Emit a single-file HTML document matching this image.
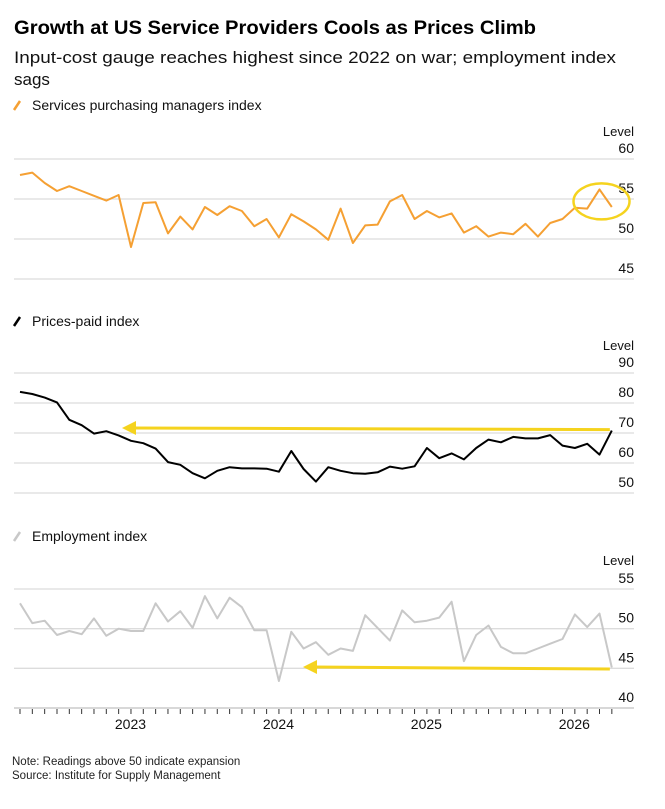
<!DOCTYPE html>
<html><head><meta charset="utf-8"><style>
html,body{margin:0;padding:0;background:#fff;}
svg{display:block;font-family:"Liberation Sans",Arial,sans-serif;}
</style></head><body>
<svg id="chart" width="665" height="809" viewBox="0 0 665 809" xmlns="http://www.w3.org/2000/svg">
<text x="14" y="34" font-size="19" font-weight="bold" fill="#000" textLength="522" lengthAdjust="spacingAndGlyphs">Growth at US Service Providers Cools as Prices Climb</text>
<text x="14" y="63" font-size="17" fill="#111" textLength="602" lengthAdjust="spacingAndGlyphs">Input-cost gauge reaches highest since 2022 on war; employment index</text>
<text x="14" y="85" font-size="17" fill="#111">sags</text>
<g id="panels"></g>
<text x="12" y="765" font-size="11.5" fill="#222">Note: Readings above 50 indicate expansion</text>
<text x="12" y="779" font-size="11.5" fill="#222">Source: Institute for Supply Management</text>
</svg>
<script>
const pmiValues=[58.0,58.3,57.0,56.0,56.6,56.0,55.4,54.8,55.5,49.0,54.5,54.6,50.7,52.8,51.2,54.0,53.0,54.1,53.5,51.6,52.5,50.2,53.1,52.2,51.2,49.9,53.8,49.5,51.7,51.8,54.7,55.5,52.5,53.5,52.7,53.2,50.8,51.6,50.3,50.8,50.6,51.9,50.3,52.0,52.5,53.9,53.8,56.2,54.0];
const pricesValues=[83.7,83.0,81.8,80.2,74.4,72.6,69.8,70.6,69.2,67.4,66.6,64.8,60.3,59.4,56.6,54.9,57.4,58.6,58.2,58.2,58.1,57.1,64.0,58.0,53.8,58.6,57.4,56.6,56.4,56.9,58.8,58.1,58.9,65.0,61.6,63.2,61.2,65.0,67.8,66.9,68.7,68.2,68.2,69.3,65.8,65.0,66.4,62.8,70.8];
const employmentValues=[53.2,50.7,51.0,49.2,49.7,49.3,51.3,49.1,50.0,49.7,49.7,53.2,50.9,52.2,50.1,54.1,51.3,53.9,52.7,49.8,49.8,43.4,49.6,47.5,48.3,46.7,47.5,47.2,51.7,50.1,48.5,52.3,50.8,51.0,51.4,53.4,45.9,49.2,50.4,47.7,46.9,46.9,47.5,48.1,48.7,51.8,50.2,51.9,45.1];
const pmiTicks=[60,55,50,45];
const pricesTicks=[90,80,70,60,50];
const employmentTicks=[55,50,45,40];
const yearLabels=["2023","2024","2025","2026"];
const yearMonthIndex=[9,21,33,45];

const NS="http://www.w3.org/2000/svg";
const root=document.getElementById('panels');
function xScale(i){return 20+i*12.33;}
function el(tag,attrs,parent){const e=document.createElementNS(NS,tag);for(const k in attrs)e.setAttribute(k,attrs[k]);(parent||root).appendChild(e);return e;}
function yScaleFactory(vTop,yTop,vBot,yBot){return v=>yTop+(v-vTop)*(yBot-yTop)/(vBot-vTop);}

function panel(key,label,legendY,color,values,ticks,ys,levelY){
  const g=el('g',{});
  
  
  const lg=el('line',{x1:14,y1:legendY+5,x2:20,y2:legendY-4,stroke:color,'stroke-width':2.5},g);
  
  
  const lt=el('text',{x:32,y:legendY+5,'font-size':14,fill:'#111'},g);
  lt.textContent=label;
  
  
  const lv=el('text',{x:634,y:levelY,'font-size':13,'text-anchor':'end',fill:'#111'},g);
  lv.textContent='Level';
  
  
  ticks.forEach(t=>{
    const y=ys(t);
    const gl=el('line',{x1:14,x2:634,y1:y,y2:y,stroke:'#dcdcdc','stroke-width':1.3},g);
    
    
    const tx=el('text',{x:634,y:y-6,'font-size':14,'text-anchor':'end',fill:'#111'},g);
    tx.textContent=String(t);
    
    
  });
  const d=values.map((v,i)=>(i?'L':'M')+xScale(i).toFixed(1)+','+ys(v).toFixed(1)).join(' ');
  const p=el('path',{d:d,fill:'none',stroke:color,'stroke-width':2,'stroke-linejoin':'round'},g);
  
  
  return g;
}
const ysP=yScaleFactory(60,159,45,279);
const ysR=yScaleFactory(90,373,50,493);
const ysE=yScaleFactory(55,589,40,708);
const g1=panel('pmi','Services purchasing managers index',105,'#f5a033',pmiValues,pmiTicks,ysP,136);
const g2=panel('prices','Prices-paid index',321,'#000',pricesValues,pricesTicks,ysR,350);
const g3=panel('employment','Employment index',536,'#c8c8c8',employmentValues,employmentTicks,ysE,565);

// annotations
const last=pmiValues.length-1;
const ell=el('ellipse',{cx:xScale(last-1)+2,cy:ysP(pmiValues[last-1])+12,rx:28,ry:18,fill:'none',stroke:'#f5d31e','stroke-width':2.5});


function arrow(name,x1,y1,x2,y2){
  const g=el('g',{});
  
  
  el('line',{x1:x1,y1:y1,x2:x2+10,y2:y2,stroke:'#f5d31e','stroke-width':3},g);
  el('polygon',{points:`${x2},${y2} ${x2+14},${y2-7} ${x2+14},${y2+7}`,fill:'#f5d31e'},g);
}
arrow('prices-arrow',xScale(last)-2,ysR(pricesValues[last])-1,122,428);
arrow('employment-arrow',xScale(last)-2,669,303,667);

// x-axis
const ax=el('g',{});


el('line',{x1:14,x2:634,y1:708,y2:708,stroke:'#bbb','stroke-width':1},ax);
for(let i=0;i<pmiValues.length;i++){
  el('line',{x1:xScale(i),x2:xScale(i),y1:709,y2:714,stroke:'#333','stroke-width':1},ax);
}
yearLabels.forEach((lab,k)=>{
  const t=el('text',{x:xScale(yearMonthIndex[k])-0.5,y:729,'font-size':14,'text-anchor':'middle',fill:'#111'},ax);
  t.textContent=lab;
  
  
});
</script>
</body></html>
